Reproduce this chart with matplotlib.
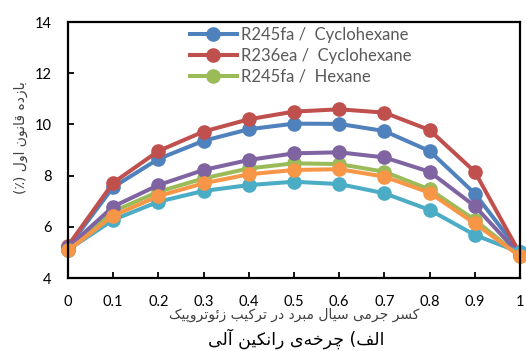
import numpy as np
import matplotlib
matplotlib.use("Agg")
import matplotlib.pyplot as plt

# mass fraction of refrigerant in the zeotropic mixture
frac = [0, 0.1, 0.2, 0.3, 0.4, 0.5, 0.6, 0.7, 0.8, 0.9, 1.0]

# first-law efficiency (%) per mixture
r245fa_cyclohexane = [5.2, 7.55, 8.65, 9.36, 9.81, 10.03, 10.02, 9.74, 8.96, 7.3, 5.0]
r236ea_cyclohexane = [5.26, 7.72, 8.96, 9.72, 10.2, 10.5, 10.59, 10.46, 9.78, 8.15, 4.95]
r245fa_hexane = [5.1, 6.6, 7.37, 7.89, 8.28, 8.48, 8.45, 8.15, 7.46, 6.27, 4.85]
series4 = [5.2, 6.79, 7.63, 8.22, 8.61, 8.87, 8.91, 8.71, 8.15, 6.81, 4.9]
series5 = [5.1, 6.27, 6.98, 7.4, 7.63, 7.76, 7.67, 7.31, 6.66, 5.68, 5.0]
series6 = [5.08, 6.43, 7.2, 7.7, 8.05, 8.22, 8.25, 7.96, 7.33, 6.13, 4.85]

labels = ["R245fa /  Cyclohexane", "R236ea /  Cyclohexane", "R245fa /  Hexane"]

ylabel = "بازده قانون اول (٪)"
xlabel = "کسر جرمی سیال مبرد در ترکیب زئوتروپیک"
caption = "الف) چرخه\u200cی رانکین آلی"


# tiny arabic/persian shaper: (isolated, final, initial, medial)
FORMS = {
    "ا": ("\uFE8D", "\uFE8E", None, None),
    "آ": ("\uFE81", "\uFE82", None, None),
    "د": ("\uFEA9", "\uFEAA", None, None),
    "ر": ("\uFEAD", "\uFEAE", None, None),
    "ز": ("\uFEAF", "\uFEB0", None, None),
    "و": ("\uFEED", "\uFEEE", None, None),
    "ب": ("\uFE8F", "\uFE90", "\uFE91", "\uFE92"),
    "ت": ("\uFE95", "\uFE96", "\uFE97", "\uFE98"),
    "ج": ("\uFE9D", "\uFE9E", "\uFE9F", "\uFEA0"),
    "خ": ("\uFEA5", "\uFEA6", "\uFEA7", "\uFEA8"),
    "س": ("\uFEB1", "\uFEB2", "\uFEB3", "\uFEB4"),
    "ف": ("\uFED1", "\uFED2", "\uFED3", "\uFED4"),
    "ق": ("\uFED5", "\uFED6", "\uFED7", "\uFED8"),
    "ل": ("\uFEDD", "\uFEDE", "\uFEDF", "\uFEE0"),
    "م": ("\uFEE1", "\uFEE2", "\uFEE3", "\uFEE4"),
    "ن": ("\uFEE5", "\uFEE6", "\uFEE7", "\uFEE8"),
    "ه": ("\uFEE9", "\uFEEA", "\uFEEB", "\uFEEC"),
    "ئ": ("\uFE89", "\uFE8A", "\uFE8B", "\uFE8C"),
    "پ": ("\uFB56", "\uFB57", "\uFB58", "\uFB59"),
    "چ": ("\uFB7A", "\uFB7B", "\uFB7C", "\uFB7D"),
    "ک": ("\uFB8E", "\uFB8F", "\uFB90", "\uFB91"),
    "ی": ("\uFBFC", "\uFBFD", "\uFBFE", "\uFBFF"),
}
MIRROR = {"(": ")", ")": "("}


def rtl(text):
    out = []
    for i, ch in enumerate(text):
        if ch == "\u200c":
            continue
        if ch not in FORMS:
            out.append(MIRROR.get(ch, ch))
            continue
        prev = text[i - 1] if i > 0 else None
        nxt = text[i + 1] if i + 1 < len(text) else None
        jp = prev in FORMS and FORMS[prev][2] is not None
        jn = nxt in FORMS and FORMS[ch][2] is not None
        iso, fin, ini, med = FORMS[ch]
        if jp and jn:
            out.append(med)
        elif jp:
            out.append(fin)
        elif jn:
            out.append(ini)
        else:
            out.append(iso)
    return "".join(reversed(out))


colors = ["#4F81BD", "#C0504D", "#9BBB59", "#8064A2", "#4BACC6", "#F79646"]
data = [r245fa_cyclohexane, r236ea_cyclohexane, r245fa_hexane, series4, series5, series6]

fig = plt.figure(figsize=(5.26, 3.51), dpi=100)
ax = fig.add_axes([68 / 526, 73 / 351, 452 / 526, 256 / 351])

handles = []
for y, c in zip(data, colors):
    h, = ax.plot(frac, y, "-o", color=c, lw=2.9, ms=9.5, clip_on=False)
    handles.append(h)

ax.set_xlim(0, 1)
ax.set_ylim(4, 14)
ax.set_xticks(frac)
ax.set_xticklabels(["%g" % v for v in frac])
ax.set_yticks([4, 6, 8, 10, 12, 14])
for s in ax.spines.values():
    s.set_linewidth(1.6)
    s.set_color("black")
ax.tick_params(direction="in", length=4, width=1.3, labelsize=10.5, pad=12)
for t in ax.get_xticklabels() + ax.get_yticklabels():
    t.set_fontfamily("Lato")

leg = ax.legend(handles[:3], labels, loc="upper left", bbox_to_anchor=(190 / 526, 1 - 27 / 351),
                bbox_transform=fig.transFigure, frameon=False, borderpad=0, borderaxespad=0,
                handlelength=2.8, handletextpad=0.25, labelspacing=0.3,
                prop={"family": "Lato", "size": 12})
for t in leg.get_texts():
    t.set_color("#595959")

fig.text(21 / 526, 1 - 138 / 351, rtl(ylabel), rotation=90, ha="center", va="center",
         fontsize=10, family="DejaVu Sans", color="#404040")
fig.text(294 / 526, 1 - 315 / 351, rtl(xlabel), ha="center", va="center",
         fontsize=10, family="DejaVu Sans", color="#404040")
fig.text(296 / 526, 1 - 339 / 351, rtl(caption), ha="center", va="center",
         fontsize=12.5, family="DejaVu Sans", color="black")

fig.savefig("out.png", dpi=100)
